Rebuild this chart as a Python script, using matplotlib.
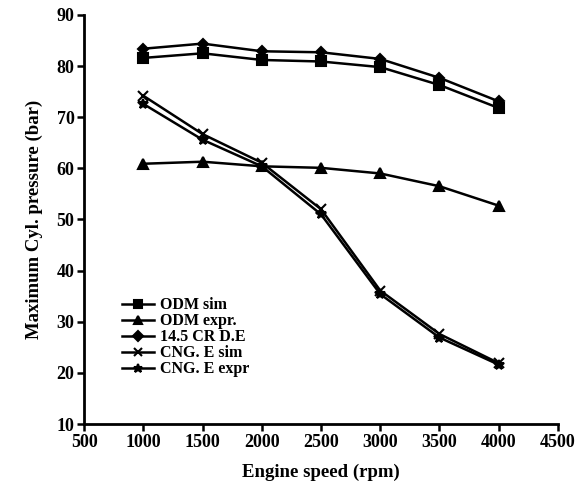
import matplotlib
matplotlib.use("Agg")
import matplotlib.pyplot as plt

plt.rcParams["font.family"] = ["Liberation Serif", "DejaVu Serif"]
plt.rcParams["font.weight"] = "bold"
plt.rcParams["axes.labelweight"] = "bold"

# Engine speed (rpm)
speed = [1000, 1500, 2000, 2500, 3000, 3500, 4000]

# Maximum cylinder pressure (bar)
odm_sim = [81.6, 82.5, 81.2, 80.9, 79.8, 76.3, 71.8]
odm_expr = [60.9, 61.3, 60.4, 60.1, 59.0, 56.5, 52.7]
cr_de = [83.4, 84.4, 82.9, 82.7, 81.4, 77.7, 73.1]
cng_sim = [74.2, 66.7, 61.1, 52.0, 36.1, 27.6, 21.9]
cng_expr = [72.6, 65.6, 60.4, 51.0, 35.4, 26.9, 21.6]

series = [
    ("ODM sim", odm_sim, "s", 6.5),
    ("ODM expr.", odm_expr, "^", 6.5),
    ("14.5 CR D.E", cr_de, "D", 5.5),
    ("CNG. E sim", cng_sim, "x", 6.5),
    ("CNG. E expr", cng_expr, "*", 7.5),
]

fig = plt.figure(figsize=(5.8, 4.94), dpi=100)
ax = fig.add_axes([0.145, 0.1417, 0.817, 0.828])

for label, vals, mk, ms in series:
    ax.plot(speed, vals, color="black", lw=1.8, marker=mk, markersize=ms,
            markeredgewidth=1.5, label=label)

ax.set_xlim(500, 4500)
ax.set_ylim(10, 90)
ax.set_xticks(range(500, 4501, 500))
ax.set_yticks(range(10, 91, 10))

for side in ["top", "right"]:
    ax.spines[side].set_visible(False)
for side in ["left", "bottom"]:
    ax.spines[side].set_linewidth(2)
ax.tick_params(direction="out", width=1.8, length=5, labelsize=13, pad=2)

ax.set_xlabel("Engine speed (rpm)", fontsize=13.5, labelpad=9)
ax.set_ylabel("Maximum Cyl. pressure (bar)", fontsize=13.5, labelpad=10)

leg = ax.legend(loc="upper left", bbox_to_anchor=(0.08, 0.31), frameon=False,
                fontsize=11.5, handlelength=2.0, handletextpad=0.4,
                labelspacing=0.0, borderpad=0, borderaxespad=0,
                markerscale=0.85)

fig.savefig("out.png", dpi=100)
